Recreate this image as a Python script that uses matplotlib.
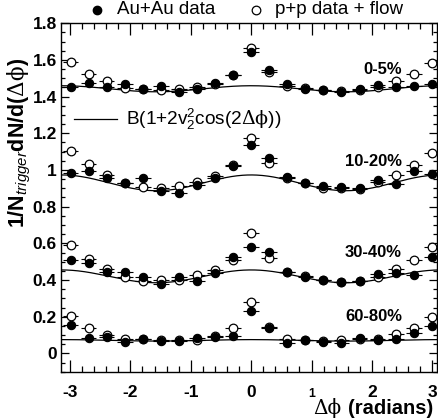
import matplotlib
matplotlib.use('Agg')
import matplotlib.pyplot as plt
import numpy as np
from matplotlib.ticker import MultipleLocator, FixedLocator
from matplotlib.lines import Line2D
from matplotlib.transforms import blended_transform_factory, ScaledTranslation

plt.rcParams['font.family'] = ['Liberation Sans', 'DejaVu Sans']
plt.rcParams['axes.unicode_minus'] = False
plt.rcParams['mathtext.fontset'] = 'custom'
plt.rcParams['mathtext.rm'] = 'Liberation Sans'
plt.rcParams['mathtext.it'] = 'Liberation Sans:italic'
plt.rcParams['mathtext.bf'] = 'Liberation Sans:bold'
plt.rcParams['mathtext.sf'] = 'DejaVu Serif'

# ---------------- data ----------------
dphi = [-2.992, -2.693, -2.394, -2.094, -1.795, -1.496, -1.197, -0.898, -0.598, -0.299,
        0.0, 0.299, 0.598, 0.898, 1.197, 1.496, 1.795, 2.094, 2.394, 2.693, 2.992]

centralities = ['0-5%', '10-20%', '30-40%', '60-80%']

auau_0_5 = [1.454, 1.473, 1.454, 1.467, 1.442, 1.458, 1.427, 1.444, 1.476, 1.518, 1.645,
            1.546, 1.467, 1.442, 1.436, 1.427, 1.440, 1.462, 1.453, 1.458, 1.469]
pp_0_5 = [1.591, 1.522, 1.484, 1.447, 1.440, 1.436, 1.444, 1.453, 1.467, 1.518, 1.664,
          1.533, 1.460, 1.445, 1.436, 1.433, 1.436, 1.454, 1.484, 1.522, 1.585]

auau_10_20 = [0.985, 0.995, 0.958, 0.931, 0.955, 0.887, 0.876, 0.916, 0.958, 1.023, 1.136,
              1.064, 0.964, 0.927, 0.913, 0.907, 0.900, 0.944, 0.922, 0.995, 0.978]
pp_10_20 = [1.105, 1.031, 0.973, 0.927, 0.909, 0.904, 0.915, 0.936, 0.967, 1.027, 1.176,
            1.036, 0.955, 0.927, 0.904, 0.900, 0.896, 0.936, 0.973, 1.027, 1.095]

auau_30_40 = [0.509, 0.491, 0.442, 0.445, 0.415, 0.376, 0.415, 0.396, 0.440, 0.527, 0.582,
              0.551, 0.442, 0.415, 0.400, 0.391, 0.396, 0.433, 0.436, 0.427, 0.524]
pp_30_40 = [0.591, 0.514, 0.458, 0.415, 0.394, 0.398, 0.400, 0.427, 0.454, 0.509, 0.658,
            0.522, 0.442, 0.422, 0.400, 0.391, 0.396, 0.418, 0.460, 0.509, 0.582]

auau_60_80 = [0.154, 0.085, 0.091, 0.063, 0.076, 0.069, 0.069, 0.085, 0.091, 0.096, 0.232,
              0.136, 0.055, 0.073, 0.063, 0.055, 0.085, 0.071, 0.076, 0.112, 0.151]
pp_60_80 = [0.205, 0.140, 0.100, 0.080, 0.076, 0.073, 0.073, 0.073, 0.094, 0.136, 0.278,
            0.145, 0.080, 0.073, 0.069, 0.073, 0.076, 0.080, 0.104, 0.140, 0.200]

# flow-modulated background: B(1 + 2 v2^2 cos(2 dphi))
bkg_B = [1.443, 0.930, 0.420, 0.071]
bkg_v2 = [0.0756, 0.152, 0.204, 0.168]

label_y = [1.549, 1.045, 0.551, 0.200]

auau_sets = [auau_0_5, auau_10_20, auau_30_40, auau_60_80]
pp_sets = [pp_0_5, pp_10_20, pp_30_40, pp_60_80]

xtick_vals = [-3, -2, -1, 0, 1, 2, 3]
ytick_vals = [0, 0.2, 0.4, 0.6, 0.8, 1.0, 1.2, 1.4, 1.6, 1.8]
ytick_labels = ['0', '0.2', '0.4', '0.6', '0.8', '1', '1.2', '1.4', '1.6', '1.8']

# ---------------- figure ----------------
W, H = 438, 418
fig = plt.figure(figsize=(W / 100, H / 100), dpi=100)
ax_left, ax_right = 61, 436.5
ax_top, ax_bot = 23.3, 371.7
ax = fig.add_axes([ax_left / W, 1 - ax_bot / H, (ax_right - ax_left) / W, (ax_bot - ax_top) / H])
ax.set_xlim(-3.15, 3.07)
ax.set_ylim(-0.1, 1.8)

xerr = 0.13
for auau, pp, B, v2, lab, ly in zip(auau_sets, pp_sets, bkg_B, bkg_v2, centralities, label_y):
    xx = np.linspace(-3.15, 3.07, 400)
    ax.plot(xx, B * (1 + 2 * v2 ** 2 * np.cos(2 * xx)), color='black', lw=0.9, zorder=2)
    x = np.array(dphi)
    ax.hlines(pp, x - xerr, x + xerr, color='black', lw=0.8, zorder=3)
    ax.hlines(auau, x - xerr, x + xerr, color='black', lw=0.8, zorder=3)
    ax.plot(x, pp, 'o', ms=6.2, mfc='white', mec='black', mew=0.9, ls='none',
            clip_on=False, zorder=4)
    ax.plot(x, auau, 'o', ms=6.0, mfc='black', mec='black', mew=0.8, ls='none',
            clip_on=False, zorder=5)
    ax.text(2.50, ly, lab, ha='right', va='center', fontsize=12, fontweight='bold')

# formula legend
ax.plot([-2.934, -2.221], [1.278, 1.278], color='black', lw=0.9)
ax.text(-2.07, 1.278, r'B(1+2v$_{2}^{2}$cos(2$\mathsf{\Delta\phi}$))', ha='left', va='center',
        fontsize=13.7)

# ticks
ax.xaxis.set_major_locator(FixedLocator(xtick_vals))
ax.xaxis.set_minor_locator(MultipleLocator(0.2))
ax.yaxis.set_major_locator(FixedLocator(ytick_vals))
ax.yaxis.set_minor_locator(MultipleLocator(0.05))
ax.set_yticklabels(ytick_labels)
ax.set_xticklabels([])
ax.tick_params(which='both', direction='in', top=True, right=True)
ax.tick_params(axis='x', which='major', length=8.5, width=0.9)
ax.tick_params(axis='x', which='minor', length=4.3, width=0.9)
ax.tick_params(axis='y', which='major', length=5.5, width=0.9, pad=3)
ax.tick_params(axis='y', which='minor', length=3.0, width=0.9)
for lbl in ax.get_yticklabels():
    lbl.set_fontsize(12.5)
    lbl.set_fontweight('bold')
for sp in ax.spines.values():
    sp.set_linewidth(1.0)

# x tick labels on a common baseline (the "1" is drawn smaller, as in the original)
trans = blended_transform_factory(ax.transData, ax.transAxes)
off = ScaledTranslation(0, -25.3 / 100, fig.dpi_scale_trans)
for xv in xtick_vals:
    fs = 8.8 if xv == 1 else 12.5
    ax.text(xv, 0, str(xv), transform=trans + off, ha='center', va='baseline',
            fontsize=fs, fontweight='bold')

# axis labels
fig.text(433 / W, 1 - 413.5 / H, '(radians)', ha='right', va='baseline',
         fontsize=14.5, fontweight='bold')
fig.text(341 / W, 1 - 413.5 / H, 'Δϕ', ha='right', va='baseline',
         fontsize=14.5, family=['DejaVu Serif'])
fig.text(19 / W, 1 - 143 / H, r'1/N$_{trigger}$dN/d($\mathsf{\Delta\phi}$)', rotation=90,
         ha='center', va='center', fontsize=15.5, fontweight='bold')

# top legend
ly_fig = 1 - 10 / H
fig.add_artist(Line2D([97 / W], [ly_fig], marker='o', ms=6.0, mfc='black', mec='black',
                      ls='none', transform=fig.transFigure))
fig.text(117 / W, ly_fig, 'Au+Au data', ha='left', va='center', fontsize=13.5)
fig.add_artist(Line2D([256 / W], [ly_fig], marker='o', ms=6.2, mfc='white', mec='black',
                      mew=0.9, ls='none', transform=fig.transFigure))
fig.text(275 / W, ly_fig, 'p+p data + flow', ha='left', va='center', fontsize=13.5)

fig.savefig('out.png', dpi=100)
